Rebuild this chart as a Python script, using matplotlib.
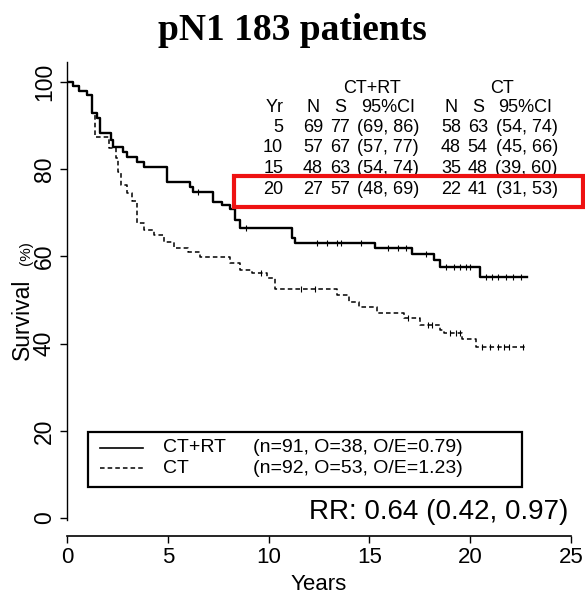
import numpy as np
import matplotlib
matplotlib.use("Agg")
import matplotlib.pyplot as plt
from matplotlib.patches import Rectangle
from matplotlib.lines import Line2D

plt.rcParams['font.family'] = ['Liberation Sans', 'DejaVu Sans']

# Kaplan-Meier steps (years, survival %)
ctrt_time = [0, 0.3, 0.6, 1.0, 1.24, 1.5, 1.64, 2.2, 2.3, 2.8, 3.0, 3.45, 3.8,
             4.95, 6.1, 6.25, 7.25, 7.7, 8.1, 8.33, 8.6, 11.15, 11.3, 15.3,
             17.1, 18.2, 18.5, 20.5, 22.8]
ctrt_surv = [100, 99, 98, 97, 93, 91.7, 88.3, 86.7, 85, 84, 82.8, 81.7, 80.5,
             77.1, 75.9, 74.8, 72.5, 71.8, 71, 68.3, 66.5, 64.2, 63.1, 61.9,
             60.6, 59.2, 57.6, 55.3, 55.3]
ctrt_cens = [6.5, 8.9, 12.4, 12.9, 13.4, 13.6, 14.6, 15.9, 16.4, 16.8, 17.8,
             18.8, 19.2, 19.5, 19.8, 20.0, 20.8, 21.1, 21.4, 21.8, 22.1, 22.5]

ct_time = [0, 0.3, 0.6, 1.0, 1.24, 1.4, 2.1, 2.45, 2.55, 2.7, 3.0, 3.2, 3.45,
           3.8, 4.3, 4.8, 5.3, 6.0, 6.6, 8.1, 8.6, 9.2, 9.9, 10.3, 13.4, 14.0,
           14.5, 15.4, 16.7, 17.5, 18.5, 18.7, 19.6, 20.3, 22.8]
ct_surv = [100, 99, 98, 97, 93, 87.4, 84.9, 82.6, 79.4, 76.4, 74.5, 72.7, 67.7,
           66, 64.9, 63.3, 61.9, 61, 59.9, 58.5, 56.9, 56.2, 55, 52.5, 51.1, 49.5,
           48.4, 47, 45.9, 44.3, 43.1, 42.4, 41, 39.2, 39.2]
ct_cens = [9.6, 11.6, 12.3, 16.9, 17.9, 18.1, 19.0, 19.3, 19.5, 20.6, 21.0,
           21.4, 21.7, 21.9, 22.6]

# table of survival at given years
tab_years = [5, 10, 15, 20]
ctrt_n = [69, 57, 48, 27]
ctrt_s = [77, 67, 63, 57]
ctrt_ci = ["(69, 86)", "(57, 77)", "(54, 74)", "(48, 69)"]
ct_n = [58, 48, 35, 22]
ct_s = [63, 54, 48, 41]
ct_ci = ["(54, 74)", "(45, 66)", "(39, 60)", "(31, 53)"]

legend_labels = ["CT+RT", "CT"]
legend_stats = ["(n=91, O=38, O/E=0.79)", "(n=92, O=53, O/E=1.23)"]


def at_time(times, surv, t):
    idx = np.searchsorted(times, t, side='right') - 1
    return np.asarray(surv)[idx]


fig = plt.figure(figsize=(5.85, 5.98), dpi=100)
ax = fig.add_axes([67 / 585, 1 - 536 / 598, 504 / 585, 474 / 598])

ax.step(ctrt_time, ctrt_surv, where='post', color='black', lw=1.7)
ax.step(ct_time, ct_surv, where='post', color='black', lw=1.1,
        linestyle=(0, (3, 2)))
ax.plot(ctrt_cens, at_time(ctrt_time, ctrt_surv, ctrt_cens), ls='none',
        marker='|', color='black', ms=5, mew=0.8)
ax.plot(ct_cens, at_time(ct_time, ct_surv, ct_cens), ls='none',
        marker='|', color='black', ms=5, mew=0.8)

ax.set_xlim(0, 25)
ax.set_ylim(-4.1, 104.6)
ax.set_xticks([0, 5, 10, 15, 20, 25])
ax.set_yticks([0, 20, 40, 60, 80, 100])
ax.spines['top'].set_visible(False)
ax.spines['right'].set_visible(False)
ax.spines['left'].set_bounds(-0.5, 104.6)
ax.spines['left'].set_linewidth(1.0)
ax.spines['bottom'].set_linewidth(1.2)
ax.tick_params(axis='x', labelsize=16, length=5, width=1, pad=3)
ax.tick_params(axis='y', labelsize=16.5, length=5, width=1, pad=3)
for lab in ax.get_yticklabels():
    lab.set_rotation(90)
    lab.set_va('center')
ax.set_xlabel("Years", fontsize=16, labelpad=4)

# y label: "Survival" with a smaller "(%)"
fig.text(22 / 585, 1 - 319 / 598, "Survival", rotation=90, ha='center',
         va='center', fontsize=16.5)
fig.text(26 / 585, 1 - 253 / 598, "(%)", rotation=90, ha='center',
         va='center', fontsize=11)

# survival table
rows_y = [0.861, 0.819, 0.776, 0.732]
fs = 13
ax.text(0.605, 0.945, "CT+RT", transform=ax.transAxes, ha='center', va='center', fontsize=fs)
ax.text(0.863, 0.945, "CT", transform=ax.transAxes, ha='center', va='center', fontsize=fs)
hdr = [(0.429, "Yr", 'right'), (0.488, "N", 'center'), (0.542, "S", 'center'),
       (0.637, "95%CI", 'center'), (0.762, "N", 'center'), (0.815, "S", 'center'),
       (0.909, "95%CI", 'center')]
for x, s, ha in hdr:
    ax.text(x, 0.903, s, transform=ax.transAxes, ha=ha, va='center', fontsize=fs)
for i, y in enumerate(rows_y):
    vals = [(0.429, str(tab_years[i]), 'right'), (0.488, str(ctrt_n[i]), 'center'),
            (0.542, str(ctrt_s[i]), 'center'), (0.637, ctrt_ci[i], 'center'),
            (0.762, str(ct_n[i]), 'center'), (0.815, str(ct_s[i]), 'center'),
            (0.912, ct_ci[i], 'center')]
    for x, s, ha in vals:
        ax.text(x, y, s, transform=ax.transAxes, ha=ha, va='center', fontsize=fs)

# legend box
ax.add_patch(Rectangle((0.042, 0.103), 0.861, 0.116, transform=ax.transAxes,
                       fill=False, edgecolor='black', lw=1.6))
for y, lab, st, ls, lw in zip([0.186, 0.143], legend_labels, legend_stats,
                              ['-', (0, (3, 2))], [1.2, 1.1]):
    ax.add_line(Line2D([0.065, 0.151], [y, y], transform=ax.transAxes,
                       color='black', ls=ls, lw=lw))
    ax.text(0.190, y, lab, transform=ax.transAxes, va='center', fontsize=14)
    ax.text(0.369, y, st, transform=ax.transAxes, va='center', fontsize=14)

ax.text(0.994, 0.051, "RR: 0.64 (0.42, 0.97)", transform=ax.transAxes,
        ha='right', va='center', fontsize=20)

# highlight box around the 20 year row
fig.add_artist(Rectangle((234 / 585, 1 - 207 / 598), 349 / 585, 31 / 598,
                         transform=fig.transFigure, fill=False,
                         edgecolor='#ee1111', lw=3))

fig.text(0.499, 1 - 40 / 598, "pN1 183 patients", ha='center', va='baseline',
         fontsize=27, fontweight='bold', family='Liberation Serif')

fig.savefig("out.png", dpi=100)
